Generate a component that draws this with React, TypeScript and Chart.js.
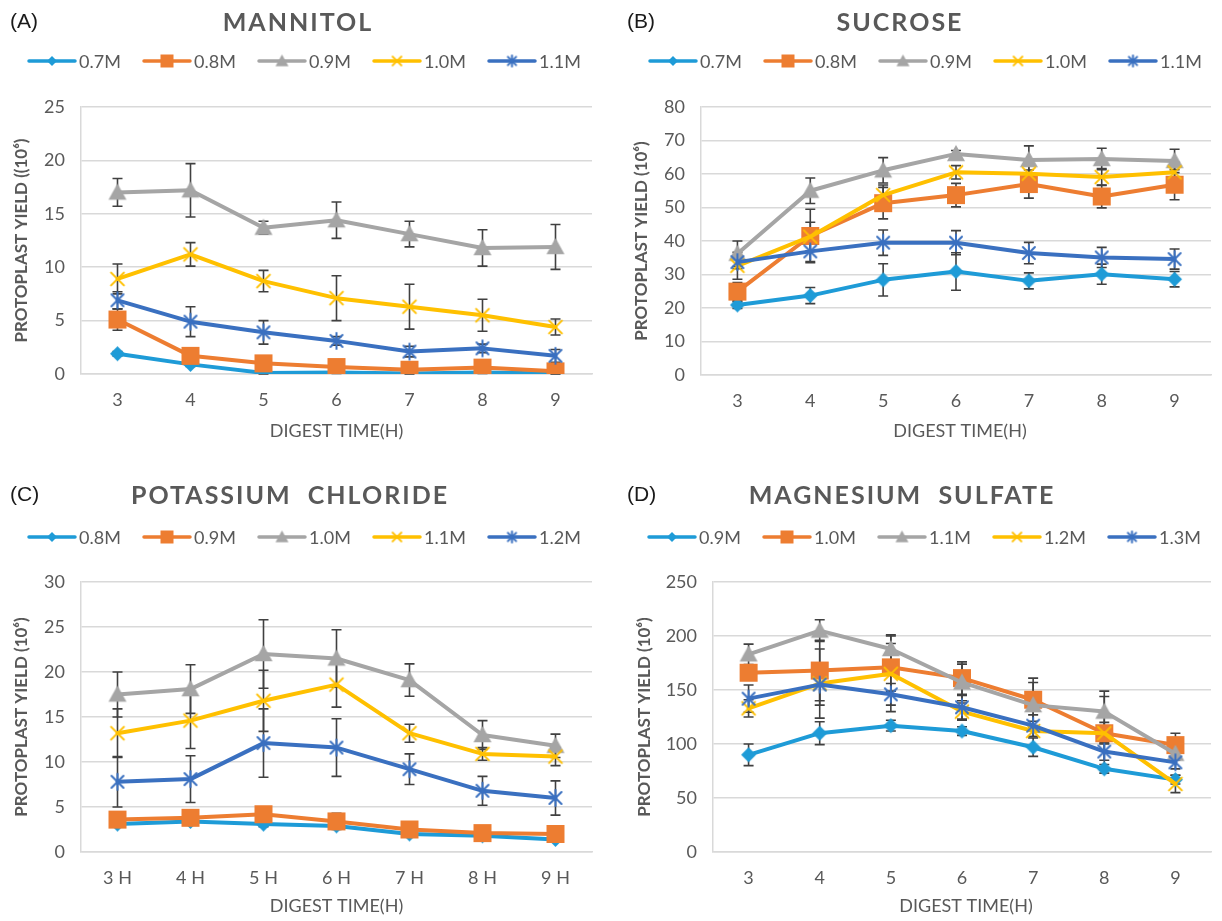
import React, { useEffect, useRef } from 'react';
import { Chart, registerables } from 'chart.js';

Chart.register(...registerables);

// ---------- categories ----------
const hours = ['3', '4', '5', '6', '7', '8', '9'];
const hoursH = ['3 H', '4 H', '5 H', '6 H', '7 H', '8 H', '9 H'];

// ---------- (A) MANNITOL ----------
const mannitolNames = ['0.7M', '0.8M', '0.9M', '1.0M', '1.1M'];
const man07 = [1.9, 0.9, 0.1, 0.15, 0.05, 0.15, 0.05];
const man07Err = [0.2, 0.2, 0.1, 0.1, 0.1, 0.1, 0.1];
const man08 = [5.1, 1.7, 1.0, 0.65, 0.4, 0.6, 0.25];
const man08Err = [1.0, 0.3, 0.3, 0.2, 0.2, 0.2, 0.2];
const man09 = [17.0, 17.2, 13.7, 14.4, 13.1, 11.8, 11.9];
const man09Err = [1.3, 2.5, 0.6, 1.7, 1.2, 1.7, 2.1];
const man10 = [8.9, 11.2, 8.7, 7.1, 6.3, 5.5, 4.4];
const man10Err = [1.4, 1.1, 1.0, 2.1, 2.1, 1.5, 0.75];
const man11 = [6.9, 4.9, 3.9, 3.1, 2.1, 2.4, 1.7];
const man11Err = [0.8, 1.4, 1.1, 0.4, 0.5, 0.4, 0.6];

// ---------- (B) SUCROSE ----------
const sucroseNames = ['0.7M', '0.8M', '0.9M', '1.0M', '1.1M'];
const suc07 = [20.9, 23.7, 28.4, 30.9, 28.1, 30.1, 28.6];
const suc07Err = [1.0, 2.4, 4.8, 5.6, 2.4, 3.0, 2.3];
const suc08 = [24.9, 41.5, 51.3, 53.7, 57.0, 53.3, 56.8];
const suc08Err = [2.7, 8.0, 4.7, 3.5, 4.2, 3.4, 4.5];
const suc09 = [36.2, 55.0, 61.1, 66.0, 64.2, 64.5, 63.9];
const suc09Err = [3.8, 3.8, 3.8, 1.0, 4.2, 3.2, 3.5];
const suc10 = [32.6, 41.3, 53.7, 60.5, 60.1, 59.1, 60.5];
const suc10Err = [4.0, 4.3, 3.0, 2.0, 3.0, 2.5, 3.0];
const suc11 = [33.7, 36.9, 39.5, 39.5, 36.4, 35.1, 34.6];
const suc11Err = [2.0, 3.0, 3.8, 3.6, 3.2, 3.0, 3.0];

// ---------- (C) POTASSIUM CHLORIDE ----------
const kclNames = ['0.8M', '0.9M', '1.0M', '1.1M', '1.2M'];
const kcl08 = [3.1, 3.4, 3.1, 2.9, 2.0, 1.8, 1.4];
const kcl08Err = [0.3, 0.3, 0.3, 0.3, 0.2, 0.2, 0.2];
const kcl09 = [3.6, 3.8, 4.2, 3.4, 2.5, 2.1, 2.0];
const kcl09Err = [0.4, 0.4, 0.4, 0.9, 0.3, 0.3, 0.3];
const kcl10 = [17.5, 18.1, 22.0, 21.5, 19.1, 13.0, 11.8];
const kcl10Err = [2.5, 2.7, 3.8, 3.2, 1.8, 1.6, 1.3];
const kcl11 = [13.2, 14.6, 16.8, 18.6, 13.2, 10.9, 10.6];
const kcl11Err = [2.7, 3.1, 3.4, 2.5, 1.0, 0.7, 1.0];
const kcl12 = [7.8, 8.1, 12.1, 11.6, 9.2, 6.8, 6.0];
const kcl12Err = [2.8, 2.6, 3.8, 3.2, 1.7, 1.6, 1.9];

// ---------- (D) MAGNESIUM SULFATE ----------
const mgNames = ['0.9M', '1.0M', '1.1M', '1.2M', '1.3M'];
const mg09 = [90, 110, 117, 112, 97, 77, 67];
const mg09Err = [10, 10.6, 5, 4, 8.5, 4, 4];
const mg10 = [166, 168, 171, 161, 141, 110, 99];
const mg10Err = [7, 28, 22, 15, 20, 10, 11];
const mg11 = [183, 205, 188, 157, 136, 130, 91];
const mg11Err = [9.5, 10, 13, 17, 21, 19, 6];
const mg12 = [133, 156, 165, 130, 112, 110, 63];
const mg12Err = [8, 32, 35, 8, 5, 34, 8];
const mg13 = [142, 155, 146, 134, 117, 93, 83];
const mg13Err = [12.6, 19, 10, 11, 10, 8, 6];

// ---------- styling ----------
const COLORS = ['#1E9BD7', '#ED7D31', '#A5A5A5', '#FFC000', '#3A70C0'];
const MARKERS = ['diamond', 'square', 'triangle', 'x', 'star'];
const MARKER_SIZE = [15, 18, 18, 16, 16];
const LEGEND_MARKER_SIZE = [10, 13, 13, 11, 11];
const TEXT = '#595959';
const GRID = '#D9D9D9';
const ERR = '#404040';
const FONT = 'Lato, "Open Sans", sans-serif';

function makeMarker(style: string, color: string, s: number): HTMLCanvasElement {
  const pad = 3;
  const size = Math.ceil(s + pad * 2);
  const c = document.createElement('canvas');
  c.width = size;
  c.height = size;
  const ctx = c.getContext('2d')!;
  const cx = size / 2;
  const cy = size / 2;
  const h = s / 2;
  ctx.fillStyle = color;
  ctx.strokeStyle = color;
  ctx.lineCap = 'round';
  ctx.beginPath();
  if (style === 'diamond') {
    ctx.moveTo(cx, cy - h);
    ctx.lineTo(cx + h, cy);
    ctx.lineTo(cx, cy + h);
    ctx.lineTo(cx - h, cy);
    ctx.closePath();
    ctx.fill();
  } else if (style === 'square') {
    ctx.rect(cx - h, cy - h, s, s);
    ctx.fill();
  } else if (style === 'triangle') {
    ctx.moveTo(cx, cy - h);
    ctx.lineTo(cx + h, cy + h * 0.8);
    ctx.lineTo(cx - h, cy + h * 0.8);
    ctx.closePath();
    ctx.fill();
  } else if (style === 'x') {
    ctx.lineWidth = 2;
    const d = h * 0.8;
    ctx.moveTo(cx - d, cy - d);
    ctx.lineTo(cx + d, cy + d);
    ctx.moveTo(cx + d, cy - d);
    ctx.lineTo(cx - d, cy + d);
    ctx.stroke();
  } else {
    ctx.lineWidth = 2;
    const d = h * 0.75;
    ctx.moveTo(cx - d, cy - d);
    ctx.lineTo(cx + d, cy + d);
    ctx.moveTo(cx + d, cy - d);
    ctx.lineTo(cx - d, cy + d);
    ctx.moveTo(cx, cy - h);
    ctx.lineTo(cx, cy + h);
    ctx.stroke();
  }
  return c;
}

type Rect = { x: number; y: number; w: number; h: number };
type Plot = { l: number; t: number; r: number; b: number };
type Panel = {
  letter: string;
  letterX: number;
  title: string;
  titleX: number;
  titleY: number;
  legendX: number;
  legendY: number;
  names: string[];
  labels: string[];
  values: number[][];
  errors: number[][];
  yMax: number;
  yStep: number;
  yTitle: string;
  yTitleX: number;
  xTitle: string;
  xTitleY: number;
  box: Rect;
  plot: Plot;
};

const panels: Panel[] = [
  {
    letter: '(A)', letterX: 10, title: 'MANNITOL', titleX: 298, titleY: 23, legendX: 27, legendY: 61,
    names: mannitolNames, labels: hours,
    values: [man07, man08, man09, man10, man11],
    errors: [man07Err, man08Err, man09Err, man10Err, man11Err],
    yMax: 25, yStep: 5, yTitle: 'PROTOPLAST YIELD ((10⁶)', yTitleX: 22,
    xTitle: 'DIGEST TIME(H)', xTitleY: 431,
    box: { x: 0, y: 0, w: 611, h: 460 },
    plot: { l: 81, t: 107, r: 592, b: 374 },
  },
  {
    letter: '(B)', letterX: 627, title: 'SUCROSE', titleX: 900, titleY: 23, legendX: 648, legendY: 61,
    names: sucroseNames, labels: hours,
    values: [suc07, suc08, suc09, suc10, suc11],
    errors: [suc07Err, suc08Err, suc09Err, suc10Err, suc11Err],
    yMax: 80, yStep: 10, yTitle: 'PROTOPLAST YIELD (10⁶)', yTitleX: 642,
    xTitle: 'DIGEST TIME(H)', xTitleY: 431,
    box: { x: 611, y: 0, w: 611, h: 460 },
    plot: { l: 701, t: 107, r: 1219, b: 375 },
  },
  {
    letter: '(C)', letterX: 10, title: 'POTASSIUM  CHLORIDE', titleX: 290, titleY: 496, legendX: 27, legendY: 537,
    names: kclNames, labels: hoursH,
    values: [kcl08, kcl09, kcl10, kcl11, kcl12],
    errors: [kcl08Err, kcl09Err, kcl10Err, kcl11Err, kcl12Err],
    yMax: 30, yStep: 5, yTitle: 'PROTOPLAST YIELD (10⁶)', yTitleX: 22,
    xTitle: 'DIGEST TIME(H)', xTitleY: 906,
    box: { x: 0, y: 460, w: 611, h: 461 },
    plot: { l: 81, t: 582, r: 592, b: 852 },
  },
  {
    letter: '(D)', letterX: 627, title: 'MAGNESIUM  SULFATE', titleX: 902, titleY: 496, legendX: 647, legendY: 537,
    names: mgNames, labels: hours,
    values: [mg09, mg10, mg11, mg12, mg13],
    errors: [mg09Err, mg10Err, mg11Err, mg12Err, mg13Err],
    yMax: 250, yStep: 50, yTitle: 'PROTOPLAST YIELD (10⁶)', yTitleX: 645,
    xTitle: 'DIGEST TIME(H)', xTitleY: 906,
    box: { x: 611, y: 460, w: 611, h: 461 },
    plot: { l: 713, t: 582, r: 1219, b: 852 },
  },
];

const errorBarsPlugin = {
  id: 'errorBars',
  beforeDatasetsDraw(chart: any) {
    const ctx = chart.ctx;
    const yScale = chart.scales.y;
    ctx.save();
    ctx.strokeStyle = ERR;
    ctx.lineWidth = 1.6;
    chart.data.datasets.forEach((ds: any, i: number) => {
      const meta = chart.getDatasetMeta(i);
      (ds.errors || []).forEach((e: number, j: number) => {
        const pt = meta.data[j];
        if (!pt) return;
        const v = ds.data[j];
        const top = yScale.getPixelForValue(v + e);
        const bot = yScale.getPixelForValue(Math.max(0, v - e));
        const x = pt.x;
        ctx.beginPath();
        ctx.moveTo(x, top);
        ctx.lineTo(x, bot);
        ctx.moveTo(x - 5, top);
        ctx.lineTo(x + 5, top);
        ctx.moveTo(x - 5, bot);
        ctx.lineTo(x + 5, bot);
        ctx.stroke();
      });
    });
    ctx.restore();
  },
};

function makeDecoPlugin(p: Panel, legendImgs: HTMLCanvasElement[]) {
  return {
    id: 'deco',
    afterDraw(chart: any) {
      const ctx = chart.ctx;
      const bx = p.box.x;
      const by = p.box.y;
      ctx.save();
      // panel letter
      ctx.fillStyle = '#1a1a1a';
      ctx.font = '21px "Liberation Sans", Arial, sans-serif';
      ctx.textBaseline = 'middle';
      ctx.textAlign = 'left';
      ctx.fillText(p.letter, p.letterX - bx, p.titleY - by - 1);
      // title
      ctx.fillStyle = TEXT;
      ctx.font = `bold 25px ${FONT}`;
      ctx.textAlign = 'center';
      (ctx as any).letterSpacing = '2px';
      ctx.fillText(p.title, p.titleX - bx, p.titleY - by);
      (ctx as any).letterSpacing = '0px';
      // legend
      ctx.font = `18px ${FONT}`;
      ctx.textAlign = 'left';
      p.names.forEach((name, i) => {
        const x0 = p.legendX - bx + i * 115;
        const y0 = p.legendY - by;
        ctx.strokeStyle = COLORS[i];
        ctx.lineWidth = 3.5;
        ctx.lineCap = 'round';
        ctx.beginPath();
        ctx.moveTo(x0 + 2, y0);
        ctx.lineTo(x0 + 48, y0);
        ctx.stroke();
        const img = legendImgs[i];
        ctx.drawImage(img, x0 + 25 - img.width / 2, y0 - img.height / 2);
        ctx.fillStyle = TEXT;
        ctx.fillText(name, x0 + 52, y0 + 1);
      });
      // y title
      ctx.save();
      ctx.translate(p.yTitleX - bx, (p.plot.t + p.plot.b) / 2 - by);
      ctx.rotate(-Math.PI / 2);
      ctx.font = `bold 17px ${FONT}`;
      ctx.textAlign = 'center';
      ctx.fillStyle = TEXT;
      ctx.fillText(p.yTitle, 0, 0);
      ctx.restore();
      // x title
      ctx.font = `18px ${FONT}`;
      ctx.textAlign = 'center';
      ctx.fillStyle = TEXT;
      ctx.fillText(p.xTitle, (p.plot.l + p.plot.r) / 2 - bx, p.xTitleY - by);
      ctx.restore();
    },
  };
}

function PanelChart({ p }: { p: Panel }) {
  const ref = useRef<HTMLCanvasElement | null>(null);
  useEffect(() => {
    if (!ref.current) return;
    const pointImgs = MARKERS.map((m, i) => makeMarker(m, COLORS[i], MARKER_SIZE[i]));
    const legendImgs = MARKERS.map((m, i) => makeMarker(m, COLORS[i], LEGEND_MARKER_SIZE[i]));
    const { box, plot } = p;
    const chart = new Chart(ref.current, {
      type: 'line',
      data: {
        labels: p.labels,
        datasets: p.values.map((vals, i) => ({
          label: p.names[i],
          data: vals,
          errors: p.errors[i],
          borderColor: COLORS[i],
          backgroundColor: COLORS[i],
          borderWidth: 4,
          borderJoinStyle: 'round',
          borderCapStyle: 'round',
          pointStyle: pointImgs[i],
          pointRadius: 7,
          tension: 0,
          order: 10 - i,
        })) as any,
      },
      options: {
        animation: false,
        responsive: false,
        maintainAspectRatio: false,
        events: [],
        layout: {
          padding: { top: plot.t - box.y, right: box.x + box.w - plot.r, left: 0, bottom: 0 },
        },
        plugins: {
          legend: { display: false },
          title: { display: false },
          tooltip: { enabled: false },
        },
        scales: {
          x: {
            type: 'category',
            offset: true,
            grid: { display: false, drawTicks: false },
            border: { display: true, color: GRID, width: 1.5 },
            ticks: { color: TEXT, font: { family: FONT, size: 18 }, padding: 15, maxRotation: 0 },
            afterFit: (s: any) => { s.height = box.y + box.h - plot.b; },
          },
          y: {
            min: 0,
            max: p.yMax,
            ticks: { stepSize: p.yStep, color: TEXT, font: { family: FONT, size: 18 }, padding: 16 },
            grid: { color: GRID, lineWidth: 1.5, drawTicks: false },
            border: { display: true, color: GRID, width: 1.5 },
            afterFit: (s: any) => { s.width = plot.l - box.x; },
          },
        },
      } as any,
      plugins: [errorBarsPlugin, makeDecoPlugin(p, legendImgs)],
    });
    return () => chart.destroy();
  }, [p]);
  return (
    <div style={{ position: 'absolute', left: p.box.x, top: p.box.y, width: p.box.w, height: p.box.h }}>
      <canvas ref={ref} width={p.box.w} height={p.box.h} />
    </div>
  );
}

export default function App() {
  return (
    <div style={{ position: 'absolute', left: 0, top: 0, width: 1222, height: 921, background: '#fff' }}>
      {panels.map((p) => (
        <PanelChart key={p.letter} p={p} />
      ))}
    </div>
  );
}
